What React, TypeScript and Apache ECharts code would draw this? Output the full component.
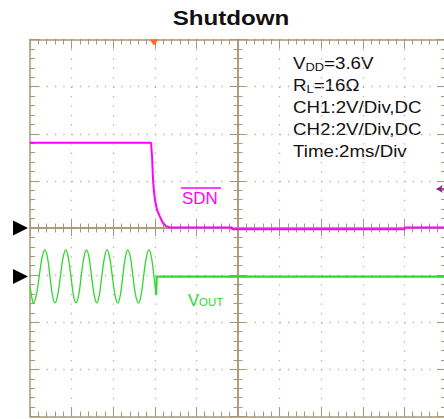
import React, { useEffect, useRef } from "react";
import * as echarts from "echarts";

// Screen scale: 2 ms/div horizontally, 2 V/div vertically (10 x 8 divisions)
const timeMin = -10;
const timeMax = 10;
const msPerDiv = 2;
const voltMin = -8;
const voltMax = 8;
const voltsPerDiv = 2;

// CH1: SDN (magenta), ground marker at 0 V
const ch1Offset = 0;
const sdnTime = [-10, -4.18, -4.13, -4.09, -4.04, -3.99, -3.89, -3.75, -3.61, -3.46, -3.27, -0.3, -0.28, 8.0, 8.02, 10];
const sdnVolts = [3.62, 3.62, 3.0, 2.12, 1.57, 1.19, 0.76, 0.47, 0.21, 0.08, 0.02, 0.02, -0.05, -0.05, 0.02, 0.02];

// CH2: VOUT (green), ground marker one division below CH1
const ch2Offset = -2.06;
const voutTime = [
  -10.0, -9.92, -9.84, -9.7, -9.56, -9.42, -9.28, -9.16, -9.04, -8.92, -8.8, -8.67, -8.54, -8.41, -8.28,
  -8.16, -8.03, -7.91, -7.79, -7.66, -7.54, -7.41, -7.29, -7.16, -7.04, -6.91, -6.79, -6.67, -6.55, -6.42,
  -6.3, -6.17, -6.04, -5.91, -5.78, -5.66, -5.54, -5.42, -5.3, -5.17, -5.05, -4.92, -4.79, -4.66, -4.54,
  -4.41, -4.28, -4.16, -4.04, -3.97, -3.94,
];
const voutVolts = [
  -0.43, -0.85, -1.12, -0.8, 0.0, 0.8, 1.13, 0.8, 0.0, -0.8, -1.12, -0.8, 0.0, 0.8, 1.13,
  0.8, 0.0, -0.8, -1.12, -0.8, 0.0, 0.8, 1.13, 0.8, 0.0, -0.8, -1.12, -0.8, 0.0, 0.8,
  1.13, 0.8, 0.0, -0.8, -1.12, -0.8, 0.0, 0.8, 1.13, 0.8, 0.0, -0.8, -1.12, -0.8, 0.0,
  0.8, 1.13, 0.8, 0.0, -0.55, -0.78,
];
const voutAfterTime = [-3.94, -3.91, 10];
const voutAfterVolts = [-0.78, 0.0, 0.0];

// Trigger markers
const triggerTime = -4.04;
const triggerLevel = 1.66;

const infoLines = ["VDD=3.6V", "RL=16Ω", "CH1:2V/Div,DC", "CH2:2V/Div,DC", "Time:2ms/Div"];

const FONT = "'Liberation Sans', Arial, sans-serif";
const frameColor = "#a89878";
const dotColor = "#bfb298";
const magenta = "#ff00ff";
const green = "#2ed82e";

export default function App() {
  const ref = useRef<HTMLDivElement>(null);
  useEffect(() => {
    if (!ref.current) return;
    const chart = echarts.init(ref.current, undefined, { renderer: "svg" });

    const frameLine = { color: frameColor, width: 1.5 };
    const tickLine = { color: frameColor, width: 1 };
    const baseX: any = {
      type: "value",
      min: timeMin,
      max: timeMax,
      interval: msPerDiv,
      axisLabel: { show: false },
      splitLine: { show: false },
    };
    const baseY: any = {
      type: "value",
      min: voltMin,
      max: voltMax,
      interval: voltsPerDiv,
      axisLabel: { show: false },
      splitLine: { show: false },
    };

    const sdnData = sdnTime.map((t, i) => [t, sdnVolts[i] + ch1Offset]);
    const voutData = voutTime.map((t, i) => [t, voutVolts[i] + ch2Offset]);
    const voutAfter = voutAfterTime.map((t, i) => [t, voutAfterVolts[i] + ch2Offset]);

    const infoScale = 1.17;
    const subRich = {
      m: { fontFamily: FONT, fontSize: 16, fill: "#111", verticalAlign: "middle", lineHeight: 20 },
      s: { fontFamily: FONT, fontSize: 11, fill: "#111", verticalAlign: "middle", padding: [9, 0, 0, 0], lineHeight: 20 },
    };

    const centerX = (inside: boolean) => ({
      ...baseX,
      axisLine: { onZero: true, onZeroAxisIndex: 0, lineStyle: frameLine },
      axisTick: { inside, length: 8, lineStyle: tickLine },
      minorTick: { show: true, splitNumber: 5, length: 4.5, lineStyle: tickLine },
    });
    const centerY = (inside: boolean) => ({
      ...baseY,
      axisLine: { onZero: true, onZeroAxisIndex: 0, lineStyle: frameLine },
      axisTick: { inside, length: 8, lineStyle: tickLine },
      minorTick: { show: true, splitNumber: 5, length: 4.5, lineStyle: tickLine },
    });

    const option: any = {
      animation: false,
      grid: { left: 30, top: 39.5, width: 416, height: 377, containLabel: false, outerBoundsMode: "none" },
      xAxis: [
        {
          ...baseX,
          position: "bottom",
          axisLine: { onZero: false, lineStyle: frameLine },
          axisTick: { inside: true, length: 9, lineStyle: tickLine },
          minorTick: { show: true, splitNumber: 5, length: 5, lineStyle: tickLine },
          splitLine: { show: true, lineStyle: { color: dotColor, width: 1.3, type: [1.3, 8.125] } },
        },
        {
          ...baseX,
          position: "top",
          axisLine: { onZero: false, lineStyle: frameLine },
          axisTick: { inside: true, length: 9, lineStyle: tickLine },
          minorTick: { show: true, splitNumber: 5, length: 5, lineStyle: tickLine },
        },
        centerX(true),
        centerX(false),
      ],
      yAxis: [
        {
          ...baseY,
          position: "left",
          axisLine: { onZero: false, lineStyle: frameLine },
          axisTick: { inside: true, length: 9, lineStyle: tickLine },
          minorTick: { show: true, splitNumber: 5, length: 5, lineStyle: tickLine },
          splitLine: { show: true, lineStyle: { color: dotColor, width: 1.3, type: [1.3, 7.02] } },
        },
        {
          ...baseY,
          position: "right",
          axisLine: { onZero: false, lineStyle: frameLine },
          axisTick: { inside: true, length: 9, lineStyle: tickLine },
          minorTick: { show: true, splitNumber: 5, length: 5, lineStyle: tickLine },
        },
        centerY(true),
        centerY(false),
      ],
      series: [
        {
          name: "SDN",
          type: "line",
          xAxisIndex: 0,
          yAxisIndex: 0,
          data: sdnData,
          showSymbol: false,
          clip: false,
          lineStyle: { color: magenta, width: 2 },
          z: 5,
          markPoint: {
            silent: true,
            label: { show: false },
            data: [
              {
                coord: [timeMin, ch1Offset],
                symbol: "triangle",
                symbolSize: [15, 15],
                symbolRotate: -90,
                symbolOffset: [-9.5, 0],
                itemStyle: { color: "#000" },
              },
              {
                coord: [triggerTime, voltMax],
                symbol: "triangle",
                symbolSize: [9, 6],
                symbolRotate: 180,
                symbolOffset: [0, 3],
                itemStyle: { color: "#ff6a13" },
              },
            ],
          },
          markLine: {
            silent: true,
            symbol: ["arrow", "none"],
            symbolSize: [6, 6],
            label: { show: false },
            lineStyle: { color: "#8b1a8b", width: 1.5, type: "solid" },
            data: [[{ coord: [9.55, triggerLevel] }, { coord: [timeMax, triggerLevel] }]],
          },
        },
        {
          name: "VOUT",
          type: "line",
          xAxisIndex: 0,
          yAxisIndex: 0,
          data: voutData,
          showSymbol: false,
          smooth: 0.35,
          lineStyle: { color: green, width: 1.3 },
          z: 5,
          markPoint: {
            silent: true,
            label: { show: false },
            data: [
              {
                coord: [timeMin, ch2Offset],
                symbol: "triangle",
                symbolSize: [15, 15],
                symbolRotate: -90,
                symbolOffset: [-9.5, 0],
                itemStyle: { color: "#000" },
              },
            ],
          },
        },
        {
          name: "VOUT",
          type: "line",
          xAxisIndex: 0,
          yAxisIndex: 0,
          data: voutAfter,
          showSymbol: false,
          clip: false,
          lineStyle: { color: green, width: 2.2 },
          z: 5,
        },
      ],
      graphic: [
        {
          type: "text",
          x: 231,
          y: 18,
          scaleX: 1.15,
          style: {
            text: "Shutdown",
            font: `bold 21px ${FONT}`,
            fill: "#111",
            align: "center",
            verticalAlign: "middle",
          },
        },
        {
          type: "text",
          x: 293,
          y: 63,
          scaleX: infoScale,
          style: { text: "{m|V}{s|DD}{m|=3.6V}", verticalAlign: "middle", rich: subRich },
        },
        {
          type: "text",
          x: 293,
          y: 85,
          scaleX: infoScale,
          style: { text: "{m|R}{s|L}{m|=16Ω}", verticalAlign: "middle", rich: subRich },
        },
        ...infoLines.slice(2).map((t, i) => ({
          type: "text",
          x: 293,
          y: 107.5 + i * 22,
          scaleX: infoScale,
          style: { text: t, font: `16px ${FONT}`, fill: "#111", verticalAlign: "middle" },
        })),
        {
          type: "text",
          x: 182,
          y: 198.5,
          scaleX: 1.06,
          style: { text: "SDN", font: `16px ${FONT}`, fill: magenta, verticalAlign: "middle" },
        },
        {
          type: "line",
          shape: { x1: 181, y1: 188, x2: 221, y2: 188 },
          style: { stroke: magenta, lineWidth: 1.5 },
        },
        {
          type: "text",
          x: 188,
          y: 300,
          scaleX: 1.04,
          style: {
            text: "{v|V}{o|OUT}",
            rich: {
              v: { fontFamily: FONT, fontSize: 16, fill: green, verticalAlign: "middle", lineHeight: 20 },
              o: { fontFamily: FONT, fontSize: 11, fill: green, verticalAlign: "middle", padding: [5, 0, 0, 0], lineHeight: 20 },
            },
            verticalAlign: "middle",
          },
        },
      ],
    };
    chart.setOption(option);
    return () => chart.dispose();
  }, []);
  return (
    <div
      ref={ref}
      style={{ position: "fixed", left: 0, top: 0, width: 444, height: 419, background: "#fff" }}
    />
  );
}
